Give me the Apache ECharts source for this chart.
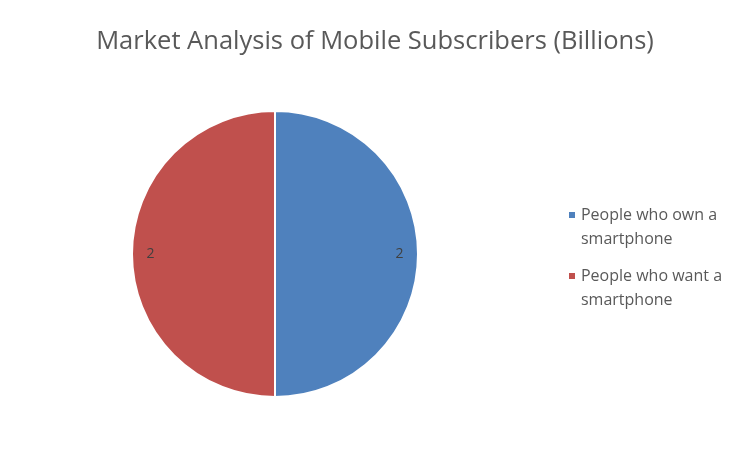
<!DOCTYPE html>
<html>
<head>
<meta charset="utf-8">
<script src="https://cdn.jsdelivr.net/npm/echarts@6/dist/echarts.min.js"></script>
<style>
  html, body { margin: 0; padding: 0; background: #fff; }
  #chart { width: 750px; height: 450px; }
</style>
</head>
<body>
<div id="chart"></div>
<script>
// 数据
const categories = ["People who own a\nsmartphone", "People who want a\nsmartphone"];
const values = [2, 2];
const colors = ["#4F81BD", "#C0504D"];

const FONT = "Open Sans";

const chart = echarts.init(document.getElementById("chart"));

const pieData = categories.map((name, i) => ({
  name,
  value: values[i],
  itemStyle: { color: colors[i] },
}));

// 图例方块放在第一行文字旁边：路径里加两个几乎不可见的点撑开高度
const legendIcon = "path://M0,8h8v8h-8z M0,0h0.01v0.01h-0.01z M0,48h0.01v0.01h-0.01z";

chart.setOption({
  animation: false,
  title: {
    text: "Market Analysis of Mobile Subscribers (Billions)",
    left: "center",
    top: 24,
    textStyle: {
      fontFamily: FONT,
      fontSize: 25.5,
      fontWeight: "normal",
      color: "#595959",
    },
  },
  legend: {
    orient: "vertical",
    left: 562,
    top: 197,
    icon: legendIcon,
    itemWidth: 8,
    itemHeight: 48,
    itemGap: 11,
    textStyle: {
      fontFamily: FONT,
      fontSize: 16,
      color: "#595959",
      lineHeight: 24,
    },
    data: categories,
  },
  series: [
    {
      // 主饼图
      type: "pie",
      center: [275, 254],
      radius: [0, 143],
      startAngle: 90,
      clockwise: true,
      label: { show: false },
      labelLine: { show: false },
      itemStyle: { borderColor: "#fff", borderWidth: 2 },
      emphasis: { disabled: true },
      data: pieData,
    },
    {
      // 数值标签层（透明环）
      type: "pie",
      center: [275, 254],
      radius: [100, 143],
      startAngle: 90,
      silent: true,
      legendHoverLink: false,
      itemStyle: { color: "transparent" },
      label: {
        show: true,
        position: "inside",
        formatter: "{c}",
        fontFamily: FONT,
        fontSize: 14,
        color: "#404040",
      },
      labelLine: { show: false },
      data: categories.map((name, i) => ({ name: name + " ", value: values[i] })),
    },
  ],
});
</script>
</body>
</html>
